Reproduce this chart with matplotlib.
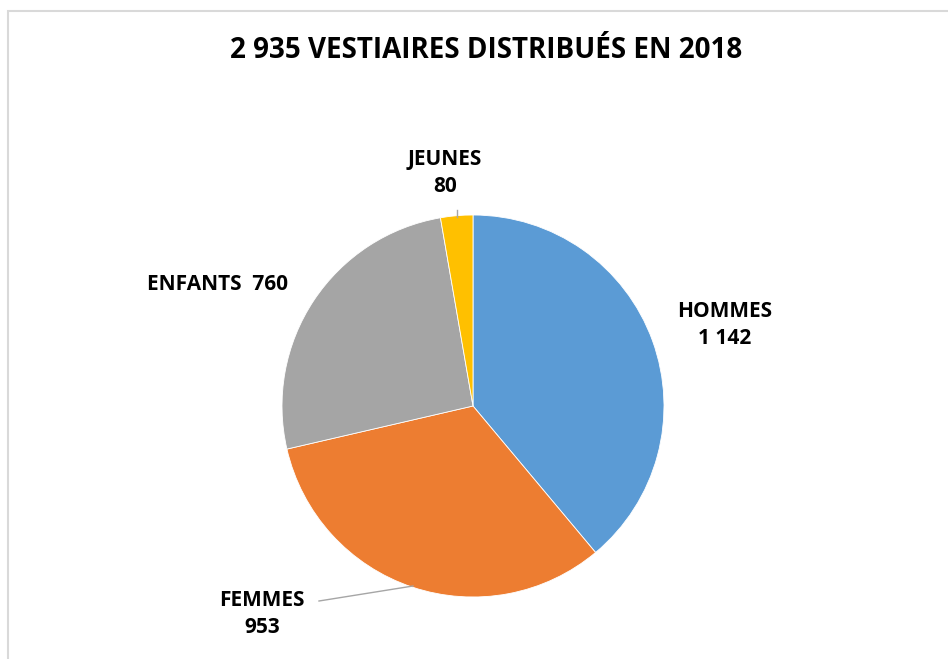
import matplotlib.pyplot as plt
from matplotlib.patches import Rectangle

plt.rcParams['font.family'] = ['Open Sans', 'DejaVu Sans']

# données
categories = ['HOMMES', 'FEMMES', 'ENFANTS', 'JEUNES']
valeurs = [1142, 953, 760, 80]
couleurs = ['#5B9BD5', '#ED7D31', '#A5A5A5', '#FFC000']
etiquettes = ['HOMMES\n1 142', 'FEMMES\n953', 'ENFANTS  760', 'JEUNES\n80']
titre = '2 935 VESTIAIRES DISTRIBUÉS EN 2018'

W, H = 948, 659
fig = plt.figure(figsize=(W / 100, H / 100), dpi=100)
ax = fig.add_axes([0, 0, 1, 1])

# cadre du graphique
ax.add_patch(Rectangle((8, -10), W, H - 11 + 10, fill=False,
                       edgecolor='#D9D9D9', linewidth=1.5))

cx, cy, r = 473, H - 406, 191
ax.pie(valeurs, colors=couleurs, startangle=90, counterclock=False,
       center=(cx, cy), radius=r, frame=True,
       wedgeprops=dict(edgecolor='white', linewidth=0.6))
ax.set_xlim(0, W)
ax.set_ylim(0, H)
ax.axis('off')

ax.text(486, H - 50, titre, ha='center', va='center', fontsize=20,
        fontweight='bold')

pos = [(725, H - 325), (262, H - 614), (218, H - 284), (445, H - 173)]
for (x, y), lab in zip(pos, etiquettes):
    ax.text(x, y, lab, ha='center', va='center', fontsize=15,
            fontweight='bold', linespacing=1.4)

# lignes de rappel
ax.plot([319, 413], [H - 601, H - 586], color='#A6A6A6', linewidth=1)
ax.plot([457, 457], [H - 210, H - 217], color='#A6A6A6', linewidth=1)

fig.savefig('out.png', dpi=100)
